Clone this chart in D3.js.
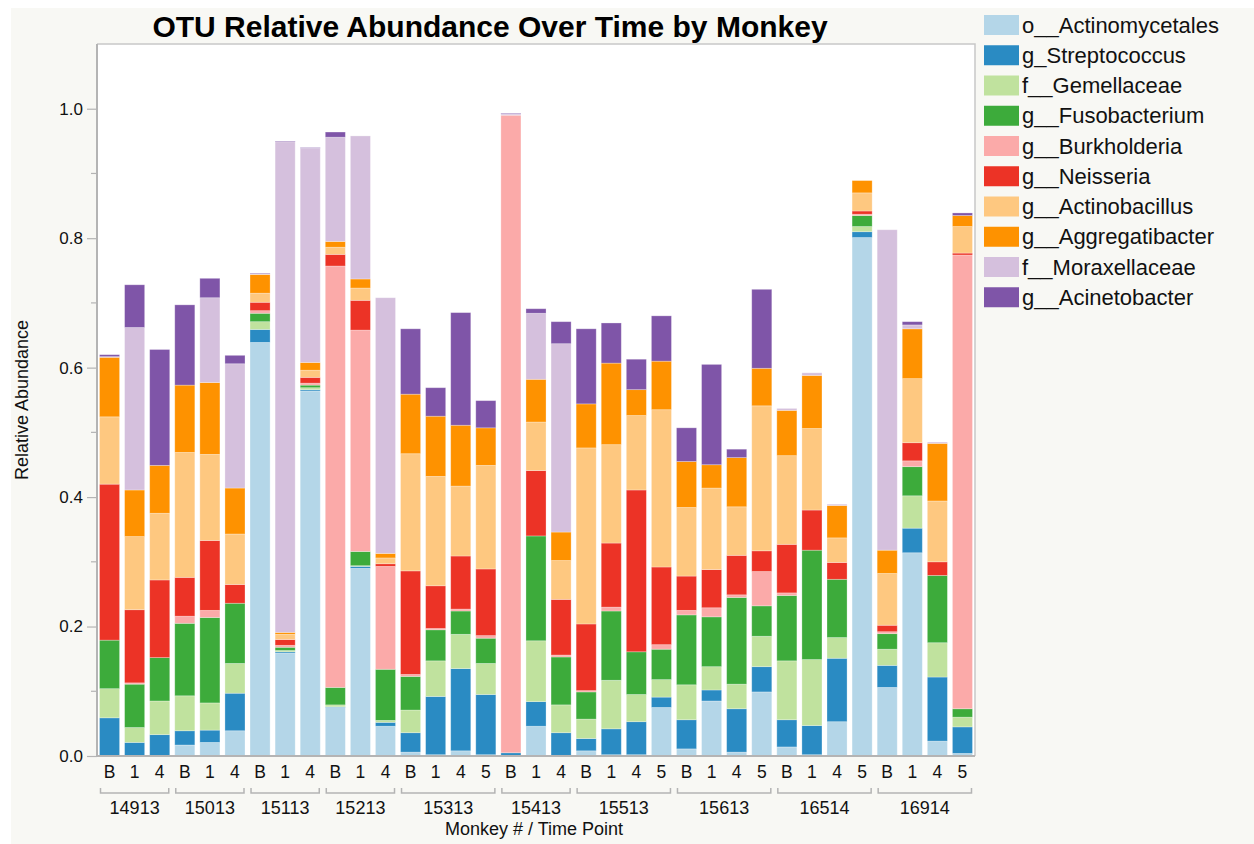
<!DOCTYPE html>
<html>
<head>
<meta charset="utf-8">
<script src="https://cdn.jsdelivr.net/npm/d3@7"></script>
<style>
  html, body { margin: 0; padding: 0; background: #ffffff; }
  svg { display: block; font-family: "Liberation Sans", Arial, Helvetica, sans-serif; }
</style>
</head>
<body>
<svg id="chart" width="1254" height="844"></svg>
<script>
// Monkeys and the time points sampled for each one
const monkeys = ["14913", "15013", "15113", "15213", "15313", "15413", "15513", "15613", "16514", "16914"];
const timePoints = [
  ["B", "1", "4"], ["B", "1", "4"], ["B", "1", "4"], ["B", "1", "4"], ["B", "1", "4", "5"],
  ["B", "1", "4"], ["B", "1", "4", "5"], ["B", "1", "4", "5"], ["B", "1", "4", "5"], ["B", "1", "4", "5"]
];

// OTU names (stack order, bottom to top) and their colours
const taxa = ["o__Actinomycetales", "g_Streptococcus", "f__Gemellaceae", "g__Fusobacterium", "g__Burkholderia",
              "g__Neisseria", "g__Actinobacillus", "g__Aggregatibacter", "f__Moraxellaceae", "g__Acinetobacter"];
const colors = ["#b4d6e8", "#2a8bc3", "#c0e29e", "#3dab3b", "#fbaaa9",
                "#ec3326", "#fec880", "#fe9200", "#d5c0dd", "#7f55a8"];

// Relative abundance per sample (35 samples, monkey by monkey, time point order)
const actinomycetales = [0, 0, 0, 0.017, 0.021, 0.039, 0.639, 0.159, 0.564, 0.075, 0.290, 0.046, 0.006, 0.002, 0.008, 0.002, 0.001, 0.046, 0.001, 0.008, 0.002, 0.002, 0.075, 0.011, 0.085, 0.006, 0.099, 0.014, 0.002, 0.053, 0.801, 0.106, 0.314, 0.023, 0.004];
const streptococcus = [0.059, 0.021, 0.033, 0.022, 0.019, 0.058, 0.020, 0.002, 0.002, 0.001, 0.003, 0.006, 0.030, 0.090, 0.127, 0.093, 0.004, 0.038, 0.035, 0.019, 0.040, 0.051, 0.016, 0.045, 0.017, 0.067, 0.039, 0.042, 0.045, 0.098, 0.009, 0.034, 0.038, 0.099, 0.041];
const gemellaceae = [0.045, 0.023, 0.052, 0.054, 0.042, 0.046, 0.012, 0.002, 0.003, 0.003, 0.001, 0.003, 0.035, 0.055, 0.053, 0.048, 0, 0.094, 0.043, 0.030, 0.075, 0.042, 0.027, 0.054, 0.036, 0.038, 0.047, 0.091, 0.102, 0.032, 0.008, 0.025, 0.050, 0.053, 0.015];
const fusobacterium = [0.075, 0.067, 0.067, 0.112, 0.132, 0.093, 0.013, 0.005, 0.004, 0.027, 0.022, 0.079, 0.052, 0.048, 0.036, 0.039, 0, 0.162, 0.074, 0.042, 0.107, 0.066, 0.047, 0.108, 0.077, 0.134, 0.047, 0.101, 0.169, 0.090, 0.017, 0.024, 0.045, 0.104, 0.013];
const burkholderia = [0, 0.002, 0, 0.011, 0.011, 0, 0.004, 0.003, 0.003, 0.651, 0.342, 0.159, 0.003, 0.002, 0.003, 0.004, 0.985, 0, 0.003, 0.002, 0.006, 0, 0.007, 0.007, 0.014, 0.004, 0.053, 0.004, 0, 0, 0.002, 0.003, 0.009, 0, 0.701];
const neisseria = [0.241, 0.113, 0.120, 0.060, 0.108, 0.029, 0.013, 0.009, 0.009, 0.018, 0.046, 0.004, 0.160, 0.066, 0.082, 0.103, 0, 0.101, 0.086, 0.103, 0.099, 0.250, 0.120, 0.053, 0.059, 0.061, 0.032, 0.075, 0.062, 0.026, 0.005, 0.010, 0.028, 0.021, 0.003];
const actinobacillus = [0.104, 0.113, 0.103, 0.193, 0.133, 0.078, 0.014, 0.008, 0.011, 0.011, 0.019, 0.009, 0.181, 0.169, 0.108, 0.160, 0, 0.075, 0.060, 0.272, 0.152, 0.115, 0.243, 0.106, 0.126, 0.075, 0.224, 0.137, 0.126, 0.038, 0.028, 0.080, 0.099, 0.094, 0.041];
const aggregatibacter = [0.092, 0.072, 0.074, 0.104, 0.111, 0.071, 0.029, 0.003, 0.012, 0.009, 0.014, 0.007, 0.092, 0.093, 0.094, 0.058, 0, 0.066, 0.044, 0.068, 0.126, 0.040, 0.075, 0.071, 0.036, 0.076, 0.058, 0.070, 0.082, 0.050, 0.019, 0.036, 0.077, 0.089, 0.017];
const moraxellaceae = [0.001, 0.251, 0, 0, 0.131, 0.192, 0.001, 0.758, 0.331, 0.161, 0.221, 0.395, 0, 0, 0, 0, 0.002, 0.102, 0.291, 0, 0, 0, 0, 0, 0, 0, 0, 0.003, 0.004, 0.002, 0, 0.495, 0.006, 0.002, 0];
const acinetobacter = [0.003, 0.066, 0.179, 0.124, 0.030, 0.013, 0.001, 0.001, 0.001, 0.008, 0, 0, 0.101, 0.044, 0.174, 0.042, 0.001, 0.007, 0.034, 0.116, 0.062, 0.047, 0.070, 0.052, 0.155, 0.013, 0.122, 0, 0, 0, 0, 0, 0.005, 0, 0.004];

const yTicks = [0, 0.2, 0.4, 0.6, 0.8, 1.0];
const yMinorTicks = [0.1, 0.3, 0.5, 0.7, 0.9];

const seriesValues = [actinomycetales, streptococcus, gemellaceae, fusobacterium, burkholderia,
                      neisseria, actinobacillus, aggregatibacter, moraxellaceae, acinetobacter];

// One row per sample, keyed by taxon
const rows = [];
monkeys.forEach((m, mi) => {
  timePoints[mi].forEach(tp => {
    const i = rows.length;
    const row = { key: m + "|" + tp, monkey: m, tp: tp };
    taxa.forEach((t, ti) => { row[t] = seriesValues[ti][i]; });
    rows.push(row);
  });
});

const svg = d3.select("#chart");
const margin = { left: 97, right: 975, top: 44, bottom: 756 };
const font = '"Liberation Sans", Arial, Helvetica, sans-serif';

// Page panel and plot background
svg.append("rect").attr("x", 11).attr("y", 8).attr("width", 1243).attr("height", 836).attr("fill", "#f8f8f4");
svg.append("rect").attr("x", margin.left).attr("y", margin.top)
  .attr("width", margin.right - margin.left).attr("height", margin.bottom - margin.top).attr("fill", "#ffffff");

const x = d3.scaleBand().domain(rows.map(r => r.key))
  .range([margin.left, margin.right]).paddingInner(0.2).paddingOuter(0.1);
const y = d3.scaleLinear().domain([0, 1.1]).range([margin.bottom, margin.top]);
const color = d3.scaleOrdinal().domain(taxa).range(colors);

// Stacked bars
const stacked = d3.stack().keys(taxa)(rows);
svg.append("g").selectAll("g").data(stacked).join("g")
  .attr("fill", d => color(d.key))
  .selectAll("rect").data(d => d).join("rect")
  .attr("x", d => x(d.data.key))
  .attr("width", x.bandwidth())
  .attr("y", d => y(d[1]))
  .attr("height", d => Math.max(0, y(d[0]) - y(d[1])))
  .attr("stroke", "#ffffff").attr("stroke-opacity", 0.35).attr("stroke-width", 0.8);

// Frame (top and right)
svg.append("path")
  .attr("d", `M${margin.left},${margin.top}H${margin.right}V${margin.bottom}`)
  .attr("fill", "none").attr("stroke", "#c8c8c8").attr("stroke-width", 1.5);

// Y axis with major and minor ticks
const yAxis = svg.append("g").attr("transform", `translate(${margin.left},0)`)
  .call(d3.axisLeft(y).tickValues(yTicks).tickFormat(d3.format(".1f")).tickSize(10).tickPadding(4));
yAxis.select(".domain").remove();
yAxis.selectAll(".tick line").attr("stroke", "#b4b4b4").attr("stroke-width", 1.2);
yAxis.selectAll(".tick text").attr("font-size", 17).attr("font-family", font).attr("fill", "#111");
svg.append("g").selectAll("line").data(yMinorTicks).join("line")
  .attr("x1", margin.left - 6).attr("x2", margin.left)
  .attr("y1", d => y(d)).attr("y2", d => y(d))
  .attr("stroke", "#b4b4b4").attr("stroke-width", 1.2);
svg.append("line").attr("x1", margin.left).attr("x2", margin.left)
  .attr("y1", margin.top).attr("y2", margin.bottom + 1)
  .attr("stroke", "#b4b4b4").attr("stroke-width", 2);

// X axis line and time point labels
svg.append("line").attr("x1", margin.left - 1).attr("x2", margin.right)
  .attr("y1", margin.bottom).attr("y2", margin.bottom)
  .attr("stroke", "#b4b4b4").attr("stroke-width", 2);
const xAxis = svg.append("g").attr("transform", `translate(0,${margin.bottom})`)
  .call(d3.axisBottom(x).tickSize(0).tickPadding(10).tickFormat(k => k.split("|")[1]));
xAxis.select(".domain").remove();
xAxis.selectAll(".tick text").attr("font-size", 17.5).attr("font-family", font).attr("fill", "#111");

// Monkey brackets and labels
const groups = monkeys.map((m, mi) => {
  const keys = timePoints[mi].map(tp => m + "|" + tp);
  return { monkey: m, x0: x(keys[0]) + 1, x1: x(keys[keys.length - 1]) + x.bandwidth() - 1 };
});
const g = svg.append("g");
g.selectAll("path").data(groups).join("path")
  .attr("d", d => `M${d.x0},788V793H${d.x1}V788`)
  .attr("fill", "none").attr("stroke", "#b4b4b4").attr("stroke-width", 1.5);
g.selectAll("text").data(groups).join("text")
  .attr("x", d => (d.x0 + d.x1) / 2).attr("y", 814)
  .attr("text-anchor", "middle").attr("font-size", 18).attr("fill", "#111")
  .text(d => d.monkey);

// Axis titles
svg.append("text").attr("x", (margin.left + margin.right) / 2 - 2).attr("y", 835)
  .attr("text-anchor", "middle").attr("font-size", 18).attr("fill", "#111")
  .text("Monkey # / Time Point");
svg.append("text").attr("transform", "translate(28,400) rotate(-90)")
  .attr("text-anchor", "middle").attr("font-size", 18).attr("fill", "#111")
  .text("Relative Abundance");

// Title
svg.append("text").attr("x", 490).attr("y", 37)
  .attr("text-anchor", "middle").attr("font-size", 30).attr("font-weight", "bold").attr("fill", "#000")
  .text("OTU Relative Abundance Over Time by Monkey");

// Legend
const legend = svg.append("g").selectAll("g").data(taxa).join("g")
  .attr("transform", (d, i) => `translate(984,${15 + i * 30.25})`);
legend.append("rect").attr("width", 35).attr("height", 20).attr("fill", d => color(d));
legend.append("text").attr("x", 38).attr("y", 17.5)
  .attr("font-size", 22).attr("fill", "#111").text(d => d);
</script>
</body>
</html>
